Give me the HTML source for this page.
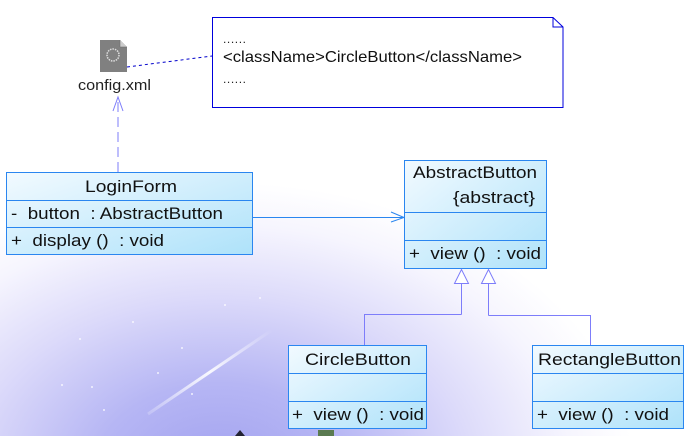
<!DOCTYPE html>
<html><head><meta charset="utf-8"><style>
html,body{margin:0;padding:0;}
body{width:687px;height:436px;overflow:hidden;background:#fff;}
svg{display:block;font-family:"Liberation Sans",Arial,sans-serif;}
</style></head><body>
<svg width="687" height="436" viewBox="0 0 687 436" xmlns="http://www.w3.org/2000/svg">
<defs>
<radialGradient id="bg" cx="220" cy="470" r="360" gradientUnits="userSpaceOnUse" gradientTransform="translate(220 470) scale(1.15 0.8) translate(-220 -470)">
<stop offset="0" stop-color="#a2a2f0"/>
<stop offset="0.3" stop-color="#b6b6f4"/>
<stop offset="0.6" stop-color="#dcdafa"/>
<stop offset="0.85" stop-color="#f6f5fe"/>
<stop offset="1" stop-color="#ffffff"/>
</radialGradient>
<linearGradient id="cls" x1="0" y1="0" x2="1" y2="1">
<stop offset="0" stop-color="#f2faff"/>
<stop offset="1" stop-color="#aee2fa"/>
</linearGradient>
<linearGradient id="streak" x1="0" y1="1" x2="1" y2="0">
<stop offset="0" stop-color="#fff" stop-opacity="0.2"/>
<stop offset="0.5" stop-color="#fff" stop-opacity="0.9"/>
<stop offset="1" stop-color="#fff" stop-opacity="0"/>
</linearGradient>
</defs>
<rect width="687" height="436" fill="url(#bg)"/>
<line x1="148" y1="414" x2="272" y2="330" stroke="url(#streak)" stroke-width="3"/>
<g fill="#fff" opacity="0.8">
<circle cx="133" cy="322" r="1"/><circle cx="182" cy="348" r="1"/><circle cx="104" cy="410" r="1"/><circle cx="62" cy="385" r="1"/><circle cx="192" cy="394" r="1"/><circle cx="158" cy="373" r="1"/><circle cx="92" cy="387" r="1"/><circle cx="260" cy="298" r="1"/><circle cx="225" cy="305" r="1"/><circle cx="80" cy="339" r="1"/>
</g>
<!-- config icon -->
<path d="M100 40 H120 L127 47 V72 H100 Z" fill="#808080"/>
<path d="M120 40 V47 H127" fill="#ccc" stroke="#666" stroke-width="0.5"/>
<circle cx="113" cy="55" r="6" fill="none" stroke="#ddd" stroke-width="1.5" stroke-dasharray="1.5 1"/>
<text x="78" y="90" font-size="15" textLength="73" lengthAdjust="spacingAndGlyphs" fill="#222">config.xml</text>
<line x1="127" y1="67" x2="212" y2="56" stroke="#0000cc" stroke-width="1" stroke-dasharray="3 3"/>
<!-- note -->
<path d="M212.5 17.5 H553 L563 27 V107.5 H212.5 Z" fill="#fff" stroke="#0000dd" stroke-width="1"/>
<path d="M553 17.5 V27 H563" fill="none" stroke="#0000dd" stroke-width="1"/>
<text x="223" y="43" font-size="12" textLength="23" fill="#222">......</text>
<text x="223" y="62" font-size="16" textLength="299" lengthAdjust="spacingAndGlyphs" fill="#111">&lt;className&gt;CircleButton&lt;/className&gt;</text>
<text x="223" y="83" font-size="12" textLength="23" fill="#222">......</text>
<!-- dependency dashed -->
<line x1="118" y1="172" x2="118" y2="97" stroke="#7d7dfa" stroke-width="1" stroke-dasharray="10 5"/>
<path d="M113 111 L118 97 L123 111" fill="none" stroke="#7d7dfa" stroke-width="1"/>
<!-- association -->
<line x1="252" y1="217.5" x2="404" y2="217.5" stroke="#2a86f0" stroke-width="1"/>
<path d="M391 212 L404 217.5 L391 222" fill="none" stroke="#2a86f0" stroke-width="1"/>
<!-- LoginForm -->
<g stroke="#2a86f0" stroke-width="1">
<rect x="6.5" y="172.5" width="246" height="82" fill="url(#cls)"/>
<line x1="6.5" y1="200.5" x2="252.5" y2="200.5"/>
<line x1="6.5" y1="227.5" x2="252.5" y2="227.5"/>
</g>
<g font-size="17" fill="#111" lengthAdjust="spacingAndGlyphs">
<text x="85" y="192" textLength="92" lengthAdjust="spacingAndGlyphs">LoginForm</text>
<text x="11" y="219" textLength="212" lengthAdjust="spacingAndGlyphs">-&#160; button&#160; : AbstractButton</text>
<text x="11" y="246" textLength="153" lengthAdjust="spacingAndGlyphs">+&#160; display ()&#160; : void</text>
</g>
<!-- AbstractButton -->
<g stroke="#2a86f0" stroke-width="1">
<rect x="404.5" y="160.5" width="142" height="108" fill="url(#cls)"/>
<line x1="404.5" y1="212.5" x2="546.5" y2="212.5"/>
<line x1="404.5" y1="240.5" x2="546.5" y2="240.5"/>
</g>
<g font-size="17" fill="#111">
<text x="413" y="178" textLength="124" lengthAdjust="spacingAndGlyphs">AbstractButton</text>
<text x="453" y="203" textLength="82" lengthAdjust="spacingAndGlyphs">{abstract}</text>
<text x="409" y="259" textLength="132" lengthAdjust="spacingAndGlyphs">+&#160; view ()&#160; : void</text>
</g>
<!-- generalization -->
<g stroke="#7d7dfa" stroke-width="1" fill="#fff">
<path d="M461.5 314.5 V283 M461.5 314.5 H364.5 V345" fill="none"/>
<path d="M488.5 315.5 V283 M488.5 315.5 H590.5 V345" fill="none"/>
<path d="M454.5 283.5 L461.5 269.5 L468.5 283.5 Z"/>
<path d="M481.5 283.5 L488.5 269.5 L495.5 283.5 Z"/>
</g>
<!-- CircleButton -->
<g stroke="#2a86f0" stroke-width="1">
<rect x="288.5" y="345.5" width="138" height="83" fill="url(#cls)"/>
<line x1="288.5" y1="373.5" x2="426.5" y2="373.5"/>
<line x1="288.5" y1="401.5" x2="426.5" y2="401.5"/>
</g>
<g font-size="17" fill="#111">
<text x="305" y="365" textLength="106" lengthAdjust="spacingAndGlyphs">CircleButton</text>
<text x="292" y="420" textLength="132" lengthAdjust="spacingAndGlyphs">+&#160; view ()&#160; : void</text>
</g>
<!-- RectangleButton -->
<g stroke="#2a86f0" stroke-width="1">
<rect x="532.5" y="345.5" width="151" height="83" fill="url(#cls)"/>
<line x1="532.5" y1="373.5" x2="683.5" y2="373.5"/>
<line x1="532.5" y1="401.5" x2="683.5" y2="401.5"/>
</g>
<g font-size="17" fill="#111">
<text x="538" y="365" textLength="143" lengthAdjust="spacingAndGlyphs">RectangleButton</text>
<text x="537" y="420" textLength="132" lengthAdjust="spacingAndGlyphs">+&#160; view ()&#160; : void</text>
</g>
<path d="M235 436 L240 430 L245 436 Z" fill="#223"/>
<rect x="318" y="430" width="16" height="6" fill="#5a7a50"/>
</svg>
</body></html>
